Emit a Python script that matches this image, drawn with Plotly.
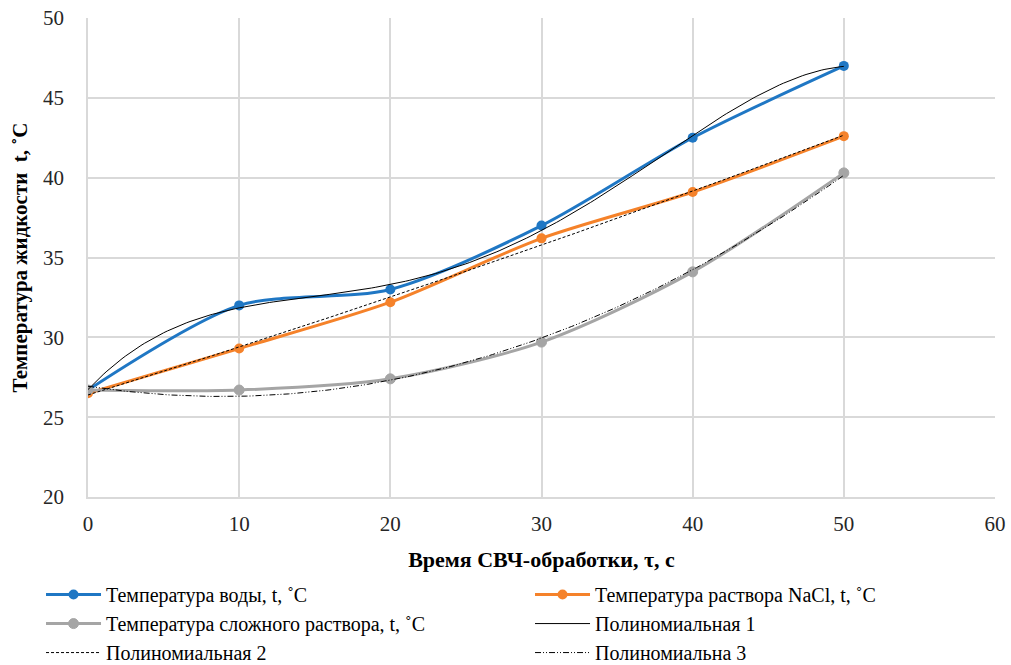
import numpy as np
import plotly.graph_objects as go

time_s = [0, 10, 20, 30, 40, 50]
water = [26.7, 32.0, 33.0, 37.0, 42.5, 47.0]
nacl = [26.5, 29.3, 32.2, 36.2, 39.1, 42.6]
complex_sol = [26.7, 26.7, 27.4, 29.7, 34.1, 40.3]

names = ["Температура воды, t, ˚C", "Температура раствора NaCl, t, ˚C",
         "Температура сложного раствора, t, ˚C"]
trend_names = ["Полиномиальная 1", "Полиномиальная 2", "Полиномиальна 3"]
trend_degrees = [4, 2, 2]

font_family = "Liberation Serif"

fig = go.Figure()
fig.add_trace(go.Scatter(x=time_s, y=water, name=names[0], mode="lines+markers",
                         line=dict(color="#1f77c4", width=3, shape="spline", smoothing=0.8),
                         marker=dict(size=10, color="#1f77c4")))
fig.add_trace(go.Scatter(x=time_s, y=nacl, name=names[1], mode="lines+markers",
                         line=dict(color="#f5822a", width=3, shape="spline", smoothing=0.8),
                         marker=dict(size=10, color="#f5822a")))
fig.add_trace(go.Scatter(x=time_s, y=complex_sol, name=names[2], mode="lines+markers",
                         line=dict(color="#a5a5a5", width=3, shape="spline", smoothing=0.8),
                         marker=dict(size=10, color="#a5a5a5",
                                     line=dict(color="#a5a5a5", width=1))))

xs = np.linspace(0, 50, 201)
dashes = ["solid", "3px,2px", "6px,2px,1px,2px,1px,2px"]
for series, deg, nm, dsh in zip([water, nacl, complex_sol], trend_degrees, trend_names, dashes):
    coeffs = np.polyfit(time_s, series, deg)
    fig.add_trace(go.Scatter(x=xs, y=np.polyval(coeffs, xs), name=nm, mode="lines",
                             line=dict(color="black", width=1, dash=dsh)))

fig.update_layout(
    width=1011, height=665,
    margin=dict(l=88, r=16, t=18, b=168, autoexpand=False),
    paper_bgcolor="white", plot_bgcolor="white",
    font=dict(family=font_family, size=20, color="#000000"),
    showlegend=True,
    legend=dict(orientation="h", x=-0.0518, xanchor="left", y=-0.163, yanchor="top",
                entrywidth=419, font=dict(family=font_family, size=20, color="black"),
                tracegroupgap=0, itemwidth=55),
    xaxis=dict(range=[0, 60], dtick=10, showgrid=True, gridcolor="#d9d9d9", gridwidth=1.5,
               zeroline=False, showline=True, linecolor="#d9d9d9", linewidth=1.5,
               tickfont=dict(family=font_family, size=21, color="#262626"),
               ticks="outside", ticklen=7, tickcolor="rgba(0,0,0,0)",
               ticklabeloverflow="allow",
               title=dict(text="<b>Время СВЧ-обработки, τ, с</b>", standoff=17,
                          font=dict(family=font_family, size=22, color="black"))),
    yaxis=dict(range=[20, 50], dtick=5, showgrid=True, gridcolor="#d9d9d9", gridwidth=1.5,
               zeroline=False, showline=True, linecolor="#d9d9d9", linewidth=1.5,
               tickfont=dict(family=font_family, size=21, color="#262626"),
               ticks="outside", ticklen=18, tickcolor="rgba(0,0,0,0)",
               ticklabeloverflow="allow",
               title=dict(text="<b>Температура жидкости  t, ˚C</b>", standoff=10,
                          font=dict(family=font_family, size=21, color="black"))),
)

fig.write_html(
    "out.html",
    config={"displayModeBar": False},
    post_script="document.body.style.margin='0';"
                "document.documentElement.style.overflow='hidden';"
                "document.body.style.overflow='hidden';",
)
